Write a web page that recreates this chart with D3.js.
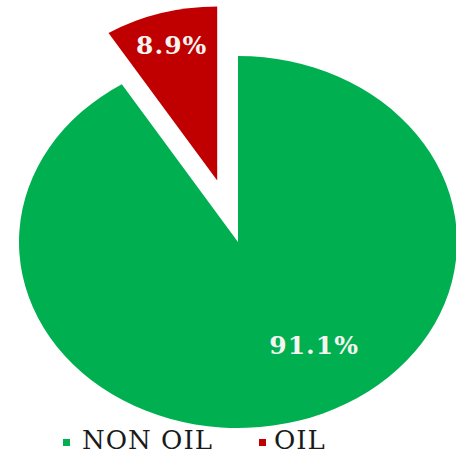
<!DOCTYPE html>
<meta charset="utf-8">
<body style="margin:0;background:#fff">
<script src="https://d3js.org/d3.v7.min.js"></script>
<script>
var categories = ["NON OIL", "OIL"];
var values = [91.1, 8.9];
var labels = ["91.1%", "8.9%"];
var colors = ["#00b050", "#c00000"];

var width = 456,
    height = 456;

// pie is drawn as a slightly stretched ellipse, like the source image
var cx = 238, cy = 242, ry = 186, sx = 219 / 186;

var svg = d3.select("body").append("svg")
    .attr("width", width)
    .attr("height", height)
    .style("display", "block");

var data = categories.map(function(c, i) {
    return {name: c, value: values[i], label: labels[i], color: colors[i]};
});

var pie = d3.pie()
    .sort(null)
    .value(function(d) { return d.value; });

var arcs = pie(data);

// exploded OIL slice is pulled out and a bit smaller
var explode = [0, 64];
var radius = [ry, 174];
// label placement: radius from slice vertex and angle (degrees, clockwise from top)
var labelR = [122, 140];
var labelA = [148, null];

var g = svg.append("g")
    .attr("transform", "translate(" + cx + "," + cy + ")scale(" + sx + ",1)");

arcs.forEach(function(a, i) {
    var mid = (a.startAngle + a.endAngle) / 2;
    var ox = explode[i] * Math.sin(mid),
        oy = -explode[i] * Math.cos(mid);
    var arc = d3.arc().innerRadius(0).outerRadius(radius[i]);
    g.append("path")
        .attr("d", arc(a))
        .attr("transform", "translate(" + ox + "," + oy + ")")
        .attr("fill", a.data.color);

    var ang = labelA[i] == null ? mid : labelA[i] * Math.PI / 180;
    var lx = cx + sx * (ox + labelR[i] * Math.sin(ang)),
        ly = cy + oy - labelR[i] * Math.cos(ang);
    svg.append("text")
        .attr("x", lx)
        .attr("y", ly)
        .attr("text-anchor", "middle")
        .attr("dominant-baseline", "central")
        .attr("font-family", "DejaVu Serif")
        .attr("font-weight", "bold")
        .attr("font-size", 25)
        .attr("letter-spacing", 1)
        .attr("fill", "#f4f4f0")
        .text(a.data.label);
});

// legend
var legendX = [63, 259];
var legendTx = [82, 274];
var legend = svg.append("g");
data.forEach(function(d, i) {
    legend.append("rect")
        .attr("x", legendX[i])
        .attr("y", 439)
        .attr("width", 7)
        .attr("height", 7)
        .attr("fill", d.color);
    legend.append("text")
        .attr("x", legendTx[i])
        .attr("y", 449)
        .attr("font-family", "DejaVu Serif")
        .attr("font-size", 26)
        .attr("letter-spacing", 1)
        .attr("fill", "#1a1a1a")
        .text(d.name);
});
</script>
